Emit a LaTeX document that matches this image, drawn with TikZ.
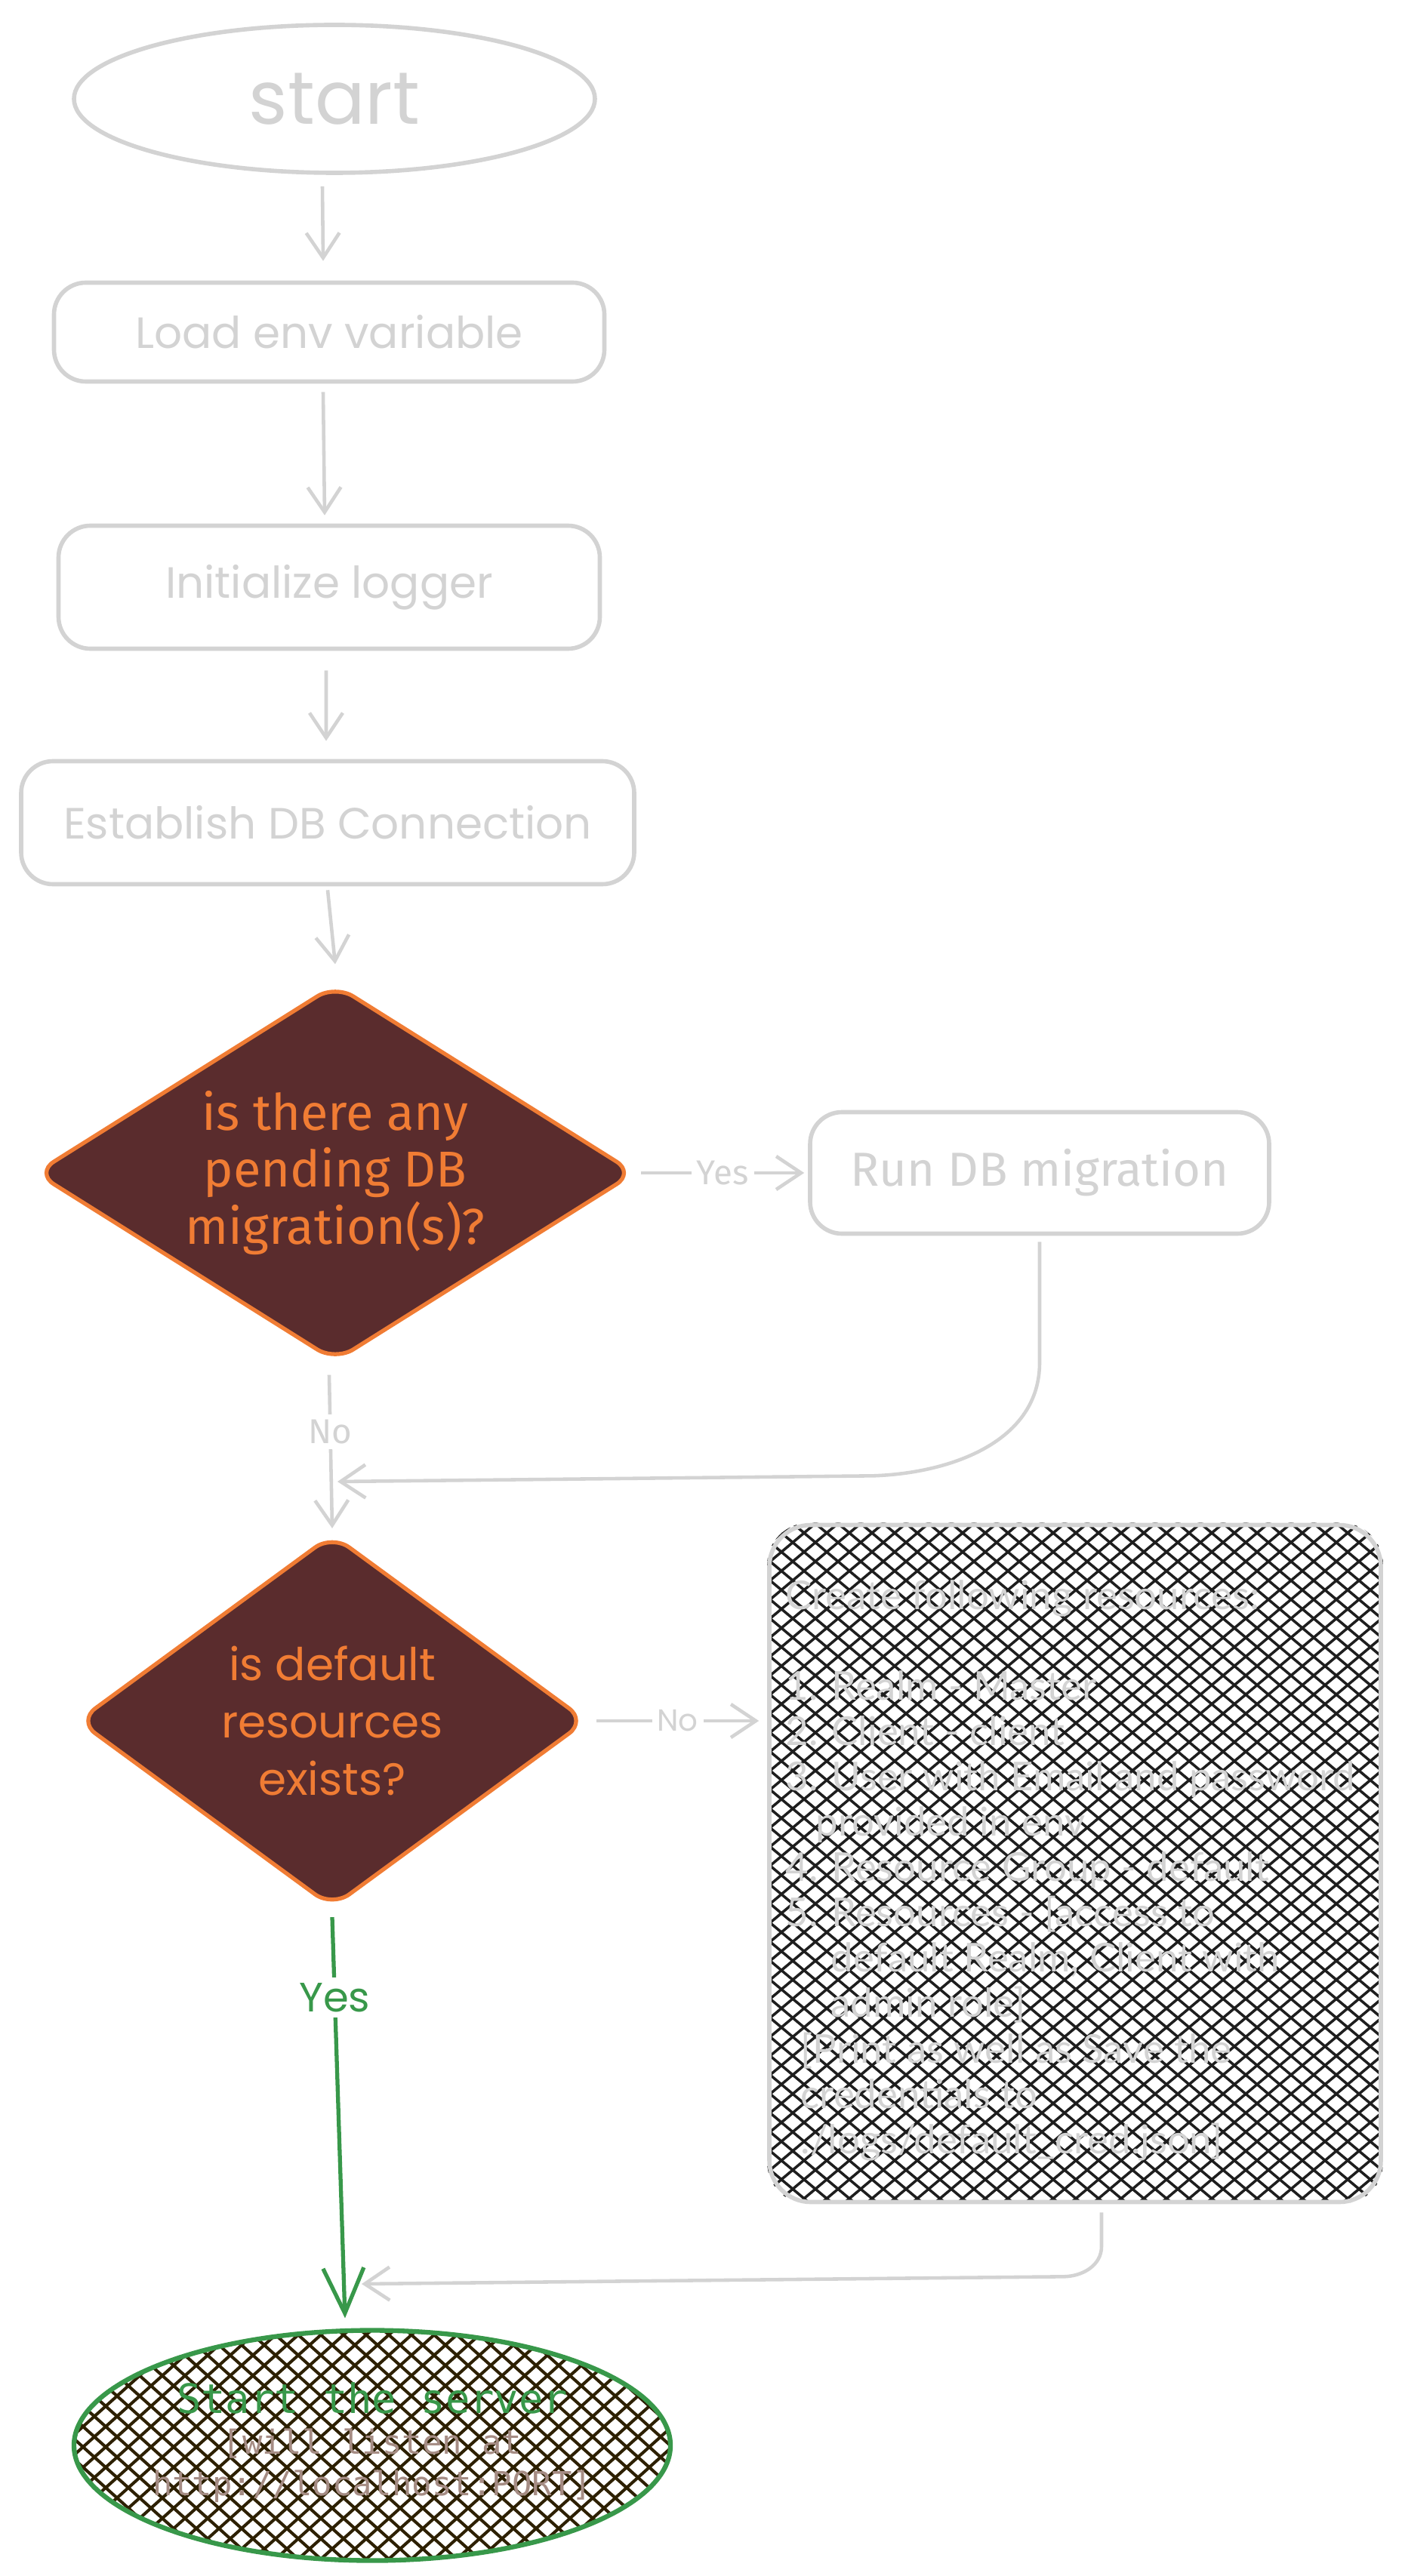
\documentclass[tikz,border=0pt]{standalone}
\usepackage{fontspec}
\usepackage{xcolor}
\usepackage{tikz}
\usetikzlibrary{shapes,arrows.meta,positioning,calc,backgrounds}
\newfontfamily\handfont{Poppins}
\newfontfamily\narrowfont{Fira Sans}
\newfontfamily\comicfont{Lato}
\newfontfamily\codefont{DejaVu Sans Mono}
\definecolor{sketchgray}{RGB}{211,211,211}
\definecolor{decibrown}{RGB}{90,44,45}
\definecolor{deciorange}{RGB}{240,124,52}
\definecolor{okgreen}{RGB}{56,152,74}
\definecolor{hatchdark}{RGB}{30,30,30}
\definecolor{hatchbrown}{RGB}{45,32,0}
\definecolor{urlbrown}{RGB}{165,140,132}
\tikzset{
    terminal/.style={ellipse, draw=sketchgray, fill=white, line width=1.6pt, inner sep=0pt, text=sketchgray},
    block/.style={rectangle, draw=sketchgray, fill=white, line width=1.6pt, rounded corners=12pt, text=sketchgray, inner sep=0pt},
    decision/.style={diamond, draw=deciorange, fill=decibrown, line width=1.5pt, rounded corners=8pt, inner sep=0pt},
    decitext/.style={text=deciorange, align=center, inner sep=0pt},
    line/.style={draw=sketchgray, line width=1.3pt, -{Straight Barb[length=3.3mm,width=4.4mm]}},
    yesline/.style={draw=okgreen, line width=1.5pt, -{Straight Barb[length=6mm,width=5.4mm]}},
    lbl/.style={fill=white, text=sketchgray, inner sep=2pt, font=\narrowfont\fontsize{13}{15}\selectfont},
    hatch/.style={draw=hatchdark, line width=1pt},
    boxfont/.style={font=\handfont\fontsize{16.5}{20}\selectfont}
}

\begin{document}
\begin{tikzpicture}
    \useasboundingbox (0,0) rectangle (18.57,-34.13);

    % Start
    \node[terminal, minimum width=6.9cm, minimum height=1.96cm, font=\handfont\fontsize{28}{34}\selectfont] at (4.43,-1.31) (start) {start};

    % Setup steps
    \node[block, boxfont, minimum width=7.29cm, minimum height=1.31cm] at (4.36,-4.40) (load) {Load env variable};
    \node[block, boxfont, minimum width=7.17cm, minimum height=1.63cm] at (4.36,-7.78) (init) {Initialize logger};
    \node[block, boxfont, minimum width=8.12cm, minimum height=1.63cm] at (4.34,-10.90) (estab) {Establish DB Connection};

    % Migration check
    \node[decision, minimum width=7.95cm, minimum height=5.0cm] at (4.44,-15.54) (dbmig) {};
    \node[decitext, font=\narrowfont\fontsize{19}{21.6}\selectfont] at (dbmig) (dbmigtxt) {is there any\\pending DB\\migration(s)?};
    \node[block, minimum width=6.08cm, minimum height=1.61cm, font=\narrowfont\fontsize{18}{22}\selectfont] at (13.77,-15.54) (rundb) {Run DB migration};

    % Default resources check
    \node[decision, minimum width=6.75cm, minimum height=4.95cm] at (4.40,-22.80) (defres) {};
    \node[decitext, font=\handfont\fontsize{17}{21.6}\selectfont] at (defres) (defrestxt) {is default\\resources\\exists?};

    % Seeding box
    \node[block, fill=none, rounded corners=0.55cm, minimum width=8.1cm, minimum height=8.97cm] at (14.24,-24.69) (seedres) {};
    \node[anchor=west, text=sketchgray, align=left, inner sep=0pt, font=\comicfont\fontsize{15}{17.1}\selectfont] at (10.40,-24.78) (seedtxt) {Create following resources:\\
        \\
        1. Realm - Master\\
        2. Client - client\\
        3. User with Email and password\\
        \hspace*{0.4cm}provided in env\\
        4. Resource Group - default\\
        5. Resources - {[}access to\\
        \hspace*{0.6cm}default Realm, Client with\\
        \hspace*{0.6cm}admin role{]}\\
        \hspace*{0.2cm}{[}Print as well as Save the\\
        \hspace*{0.2cm}credentials to\\
        \hspace*{0.2cm}./logs/default\_cred.json{]}};
    \begin{scope}[on background layer]
        \clip[rounded corners=0.55cm] (seedres.south west) rectangle (seedres.north east);
        \foreach \x in {-0.7,-0.4,...,18.5}
            \draw[hatch] (\x,-20.1) -- ++(10.8,-9.07);
        \foreach \x in {10.0,10.3,...,29.2}
            \draw[hatch] (\x,-20.1) -- ++(-10.8,-9.07);
    \end{scope}

    % Server
    \coordinate (servec) at (4.93,-32.40);
    \begin{scope}
        \clip (servec) ellipse [x radius=3.95cm, y radius=1.525cm];
        \foreach \x in {-2.8,-2.5,...,9.1}
            \draw[hatch, draw=hatchbrown, line width=1.15pt] (\x,-30.8) -- ++(3.6,-3.24);
        \foreach \x in {0.8,1.1,...,12.7}
            \draw[hatch, draw=hatchbrown, line width=1.15pt] (\x,-30.8) -- ++(-3.6,-3.24);
    \end{scope}
    \node[ellipse, draw=okgreen, line width=1.8pt, inner sep=0pt, minimum width=7.9cm, minimum height=3.05cm] at (servec) (serve) {};
    \node[align=center, inner sep=0pt, text=urlbrown, font=\codefont\fontsize{12.5}{15.5}\selectfont] at (4.93,-32.36) (servetxt) {{\color{okgreen}\fontsize{15.3}{18}\selectfont Start the server}\\
        {[}will listen at\\
        http://localhost:PORT{]}};

    % Arrows
    \coordinate (j1) at (4.47,-19.63);
    \coordinate (j2) at (4.79,-30.26);
    \coordinate (resin) at (defres.east -| seedres.west);
    \draw[line] ([xshift=-0.16cm,yshift=-0.15cm]start.south) -- ([xshift=-0.08cm,yshift=0.26cm]load.north);
    \draw[line] ([xshift=-0.08cm,yshift=-0.11cm]load.south) -- ([xshift=-0.06cm,yshift=0.11cm]init.north);
    \draw[line] ([xshift=-0.04cm,yshift=-0.26cm]init.south) -- ([xshift=-0.02cm,yshift=0.24cm]estab.north);
    \draw[line] ([yshift=-0.05cm]estab.south) -- ([yshift=0.24cm]dbmig.north);
    \draw[line] ([xshift=0.05cm]dbmig.east) -- node[lbl] (yes1) {Yes} ([xshift=-0.05cm]rundb.west);
    \draw[line] ([xshift=-0.08cm,yshift=-0.15cm]dbmig.south) -- node[lbl, pos=0.37] (no1) {No} ([yshift=0.05cm]defres.north);
    \draw[line] ([yshift=-0.08cm]rundb.south) -- ++(0,-1.6) to[out=-90,in=2] ++(-2.2,-1.5) -- (j1);
    \draw[line] ([xshift=0.1cm]defres.east) -- node[lbl, font=\handfont\fontsize{11.5}{14}\selectfont] (no2) {No} ([xshift=-0.11cm]resin);
    \draw[yesline] ([yshift=-0.1cm]defres.south) -- node[fill=white, text=okgreen, inner sep=2pt, pos=0.2, font=\handfont\fontsize{15.5}{18}\selectfont] (yes2) {Yes} ([xshift=-0.36cm,yshift=0.13cm]serve.north);
    \draw[line] ([xshift=0.35cm,yshift=-0.11cm]seedres.south) -- ++(0,-0.45) to[out=-90,in=1] ++(-0.5,-0.4) -- (j2);
\end{tikzpicture}
\end{document}
